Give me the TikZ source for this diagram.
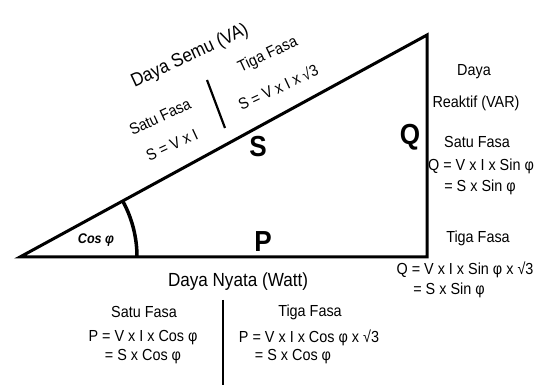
\documentclass[tikz,border=0pt]{standalone}
\usepackage{fontspec}
\setmainfont{Liberation Sans}[FakeStretch=0.9]
\usetikzlibrary{positioning}

\begin{document}
\begin{tikzpicture}[x=1pt,y=1pt,every node/.style={font=\fontsize{16}{18}\selectfont,inner sep=0pt},side/.style={line width=3pt,line join=miter},big/.style={font=\fontsize{29}{30}\selectfont\bfseries},head/.style={font=\fontsize{19}{21}\selectfont},tilt/.style={rotate=25},bar/.style={line width=2.2pt},angmark/.style={font=\fontsize{14}{15}\selectfont\bfseries\itshape}]
\useasboundingbox (0,0) rectangle (540,385);
\coordinate (a) at (20,128);
\coordinate (b) at (427,128);
\coordinate (c) at (427,350);
\draw[side] (a) -- (b) -- (c) -- cycle;
\draw[line width=3.5pt] (a) ++(117,0) arc[start angle=0,end angle=28.6,radius=117];
\node[head,tilt] (semu) at (190,329) {Daya Semu (VA)};
\node[tilt] (s1h) at (160,268) {Satu Fasa};
\node[tilt] (s1f) at (172,240) {S = V x I};
\node[tilt] (s3h) at (268,330) {Tiga Fasa};
\node[tilt] (s3f) at (278,298) {S = V x I x √3};
\coordinate (st) at (207,305);
\coordinate (sb) at (225,257);
\draw[bar] (st) -- (sb);
\node[big] (S) at (258,238) {S};
\node[big] (Q) at (410,248) {Q};
\node[big] (P) at (263,143) {P};
\node[angmark] (cos) at (96,145) {Cos φ};
\node (qh) at (474,313) {Daya};
\node (qr) at (476,282) {Reaktif (VAR)};
\node (q1h) at (477,243) {Satu Fasa};
\node (q1f) at (481,219) {Q = V x I x Sin φ};
\node (q1s) at (480,198) {= S x Sin φ};
\node (q3h) at (478,147) {Tiga Fasa};
\node (q3f) at (465,115) {Q = V x I x Sin φ x √3};
\node (q3s) at (449,95) {= S x Sin φ};
\node[head] (nyata) at (238,103) {Daya Nyata (Watt)};
\node (p1h) at (144,73) {Satu Fasa};
\node (p1f) at (143,47) {P = V x I x Cos φ};
\node (p1s) at (143,28) {= S x Cos φ};
\node (p3h) at (310,73) {Tiga Fasa};
\node (p3f) at (309,47) {P = V x I x Cos φ x √3};
\node (p3s) at (293,28) {= S x Cos φ};
\coordinate (pt) at (223,85);
\coordinate (pb) at (223,0);
\draw[bar] (pt) -- (pb);
\end{tikzpicture}
\end{document}
